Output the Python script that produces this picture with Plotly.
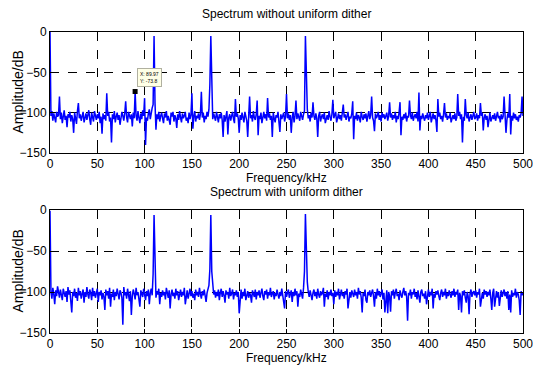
import plotly.graph_objects as go

# Frequency axis (kHz), 1 kHz bins 0..500
freq_khz = list(range(0, 501))

# Spectrum without uniform dither (dB)
amp_no_dither = [
    0, -104, -98, -110, -101, -107, -112, -99, -105, -103, -80, -108, -100, -113, -106, -97, -109, -104, -118, -102,
    -106, -99, -111, -103, -108, -125, -100, -105, -114, -98, -88, -107, -102, -110, -104, -99, -112, -106, -101, -109,
    -103, -97, -108, -115, -100, -106, -111, -98, -104, -109, -102, -107, -99, -113, -105, -126, -101, -108, -103, -110,
    -76, -104, -99, -111, -106, -137, -102, -108, -98, -112, -105, -100, -109, -103, -115, -107, -99, -104, -110, -101,
    -86, -106, -112, -99, -105, -108, -102, -117, -100, -107, -73.8, -104, -110, -98, -106, -113, -101, -108, -97, -104,
    -82, -140, -106, -110, -101, -96, -108, -99, -94, -90, -5, -88, -121, -102, -108, -99, -111, -104, -100, -107,
    -113, -101, -106, -98, -110, -104, -108, -115, -100, -105, -99, -111, -103, -107, -119, -102, -109, -98, -106, -112,
    -101, -107, -104, -99, -110, -106, -113, -100, -108, -103, -76, -120, -105, -98, -111, -104, -107, -101, -109, -102,
    -74, -106, -100, -112, -104, -108, -99, -105, -96, -65, -5, -88, -108, -101, -106, -110, -99, -104, -112, -102,
    -107, -100, -109, -130, -103, -111, -105, -98, -127, -106, -102, -110, -104, -99, -108, -113, -83, -105, -101, -107,
    -125, -103, -109, -100, -106, -112, -99, -104, -110, -130, -101, -80, -107, -103, -111, -98, -106, -109, -102, -85,
    -128, -104, -108, -100, -113, -105, -99, -107, -102, -110, -82, -106, -101, -109, -104, -130, -100, -107, -112, -103,
    -106, -99, -110, -124, -102, -108, -104, -100, -111, -105, -77, -107, -101, -109, -103, -125, -106, -99, -112, -104,
    -85, -108, -101, -106, -110, -99, -104, -109, -102, -98, -5, -68, -96, -107, -103, -111, -100, -106, -87, -104,
    -109, -101, -107, -130, -104, -99, -111, -105, -102, -108, -100, -113, -106, -103, -109, -98, -105, -110, -102, -84,
    -107, -104, -99, -112, -106, -101, -108, -103, -110, -100, -90, -106, -102, -109, -104, -99, -111, -105, -107, -101,
    -86, -133, -104, -108, -100, -110, -103, -106, -112, -99, -105, -109, -102, -107, -101, -111, -104, -98, -108, -103,
    -80, -106, -110, -123, -101, -107, -104, -99, -109, -103, -111, -100, -106, -102, -108, -105, -100, -110, -104, -87,
    -106, -101, -109, -103, -107, -99, -112, -104, -108, -100, -87, -128, -105, -109, -102, -107, -100, -111, -104, -106,
    -85, -103, -108, -100, -110, -105, -102, -107, -99, -111, -75, -122, -104, -108, -101, -106, -110, -103, -107, -100,
    -109, -104, -99, -112, -106, -101, -108, -103, -110, -124, -83, -105, -100, -108, -104, -111, -102, -88, -106, -101,
    -109, -104, -107, -100, -112, -105, -103, -108, -101, -110, -106, -77, -104, -99, -108, -102, -137, -105, -110, -83,
    -103, -107, -100, -111, -105, -102, -109, -104, -99, -108, -106, -101, -110, -103, -107, -88, -104, -100, -122, -106,
    -102, -109, -104, -118, -107, -100, -111, -105, -103, -108, -101, -110, -106, -99, -107, -104, -112, -102, -108, -105,
    -80, -103, -125, -109, -101, -106, -77, -127, -104, -110, -100, -107, -102, -109, -105, -111, -103, -106, -101, -80,
    -104,
]

# Spectrum with uniform dither (dB)
amp_dither = [
    -1, -100, -108, -95, -103, -115, -98, -105, -93, -101, -107, -97, -104, -110, -96, -102, -106, -99, -112, -94,
    -103, -98, -109, -125, -100, -105, -96, -107, -101, -111, -95, -104, -99, -108, -102, -97, -113, -100, -106, -94,
    -103, -108, -97, -101, -110, -95, -105, -99, -107, -102, -96, -112, -100, -104, -98, -109, -101, -106, -122, -97,
    -104, -99, -108, -95, -118, -102, -106, -97, -110, -100, -105, -96, -103, -109, -98, -101, -107, -140, -94, -104,
    -100, -108, -96, -103, -111, -99, -128, -105, -97, -102, -109, -95, -104, -100, -107, -118, -98, -103, -106, -96,
    -102, -110, -99, -105, -97, -115, -101, -96, -104, -78, -6, -85, -107, -99, -103, -96, -115, -101, -106, -98,
    -104, -100, -109, -95, -102, -107, -98, -120, -103, -97, -105, -101, -108, -96, -104, -99, -110, -102, -97, -106,
    -100, -104, -95, -115, -103, -98, -108, -101, -96, -105, -99, -107, -102, -110, -97, -104, -100, -106, -95, -103,
    -108, -99, -104, -97, -105, -112, -101, -96, -92, -72, -6, -75, -92, -103, -98, -107, -100, -105, -97, -110,
    -101, -96, -106, -99, -104, -113, -98, -103, -100, -108, -95, -105, -102, -97, -109, -101, -104, -98, -106, -100,
    -126, -103, -97, -108, -100, -105, -96, -110, -102, -99, -107, -101, -104, -113, -98, -103, -106, -97, -109, -100,
    -104, -98, -107, -101, -96, -105, -110, -99, -103, -97, -108, -100, -104, -95, -106, -102, -99, -109, -101, -105,
    -97, -103, -108, -100, -105, -96, -104, -110, -120, -99, -106, -101, -97, -107, -103, -98, -112, -100, -105, -96,
    -104, -99, -118, -102, -106, -97, -103, -108, -95, -75, -5, -68, -88, -100, -106, -98, -104, -110, -101, -97,
    -105, -100, -108, -96, -103, -107, -99, -104, -101, -95, -118, -102, -106, -98, -109, -100, -104, -97, -105, -101,
    -115, -98, -106, -100, -104, -96, -109, -102, -97, -105, -101, -108, -99, -103, -96, -120, -104, -100, -107, -98,
    -102, -106, -97, -104, -100, -108, -95, -103, -99, -107, -125, -101, -105, -97, -110, -113, -100, -104, -98, -106,
    -101, -97, -105, -118, -100, -108, -96, -104, -99, -106, -102, -97, -109, -101, -125, -103, -98, -126, -100, -105,
    -124, -99, -104, -97, -108, -101, -96, -105, -102, -110, -98, -103, -107, -100, -95, -104, -99, -106, -135, -101,
    -104, -97, -108, -100, -103, -96, -106, -101, -109, -98, -104, -113, -100, -97, -105, -102, -108, -99, -115, -103,
    -97, -106, -100, -104, -96, -120, -102, -107, -99, -103, -98, -105, -110, -101, -97, -106, -100, -104, -96, -108,
    -101, -105, -98, -103, -107, -99, -104, -96, -106, -100, -103, -97, -122, -101, -105, -125, -99, -104, -98, -107,
    -113, -100, -105, -127, -102, -97, -106, -101, -99, -104, -98, -107, -100, -103, -96, -118, -105, -101, -108, -97,
    -103, -99, -106, -100, -104, -97, -108, -122, -101, -96, -118, -103, -99, -107, -100, -117, -104, -98, -106, -101,
    -97, -105, -100, -108, -99, -122, -103, -125, -98, -106, -101, -104, -96, -107, -100, -103, -110, -128, -99, -104,
    -101,
]

titles = ["Spectrum without uniform dither", "Spectrum with uniform dither"]
x_title = "Frequency/kHz"
y_title = "Amplitude/dB"
x_ticks = [0, 50, 100, 150, 200, 250, 300, 350, 400, 450, 500]
y_ticks = [0, -50, -100, -150]
datatip_x = 89.97
datatip_y = -73.8

W, H = 533, 365
FONT = "Liberation Sans, Arial, Helvetica, sans-serif"

# pixel layout
px_left, px_right = 50, 523
top_px = (32, 153)
bot_px = (210, 333)

def ydom(p):
    return [1 - p[1] / H, 1 - p[0] / H]

xdom = [px_left / W, px_right / W]

fig = go.Figure()
fig.add_trace(go.Scatter(x=freq_khz, y=amp_no_dither, mode="lines",
                         line=dict(color="#0000FF", width=1.5), xaxis="x", yaxis="y",
                         showlegend=False, hoverinfo="skip"))
fig.add_trace(go.Scatter(x=freq_khz, y=amp_dither, mode="lines",
                         line=dict(color="#0000FF", width=1.5), xaxis="x2", yaxis="y2",
                         showlegend=False, hoverinfo="skip"))
fig.add_trace(go.Scatter(x=[datatip_x], y=[datatip_y], mode="markers",
                         marker=dict(color="black", size=5, symbol="square"),
                         xaxis="x", yaxis="y", showlegend=False, hoverinfo="skip"))

axis_common = dict(
    showline=True, linecolor="black", linewidth=1, mirror="allticks",
    ticks="inside", ticklen=4, tickcolor="black", automargin=False,
    showgrid=True, gridcolor="black", griddash="dash", gridwidth=1,
    zeroline=False, tickfont=dict(family=FONT, size=12, color="black"),
    ticklabeloverflow="allow",
)

fig.update_layout(
    width=W, height=H,
    margin=dict(l=0, r=0, t=0, b=0, autoexpand=False),
    paper_bgcolor="white", plot_bgcolor="white",
    xaxis=dict(domain=xdom, range=[0, 500], tickvals=x_ticks, anchor="y", **axis_common),
    yaxis=dict(domain=ydom(top_px), range=[-150, 0], tickvals=y_ticks, anchor="x", **axis_common),
    xaxis2=dict(domain=xdom, range=[0, 500], tickvals=x_ticks, anchor="y2", **axis_common),
    yaxis2=dict(domain=ydom(bot_px), range=[-150, 0], tickvals=y_ticks, anchor="x2", **axis_common),
)

cx = (px_left + px_right) / 2 / W
ann = []
for i, p in enumerate([top_px, bot_px]):
    ann.append(dict(text=titles[i], x=cx, y=1 - (p[0] - 9) / H, xref="paper", yref="paper",
                    xanchor="center", yanchor="bottom", showarrow=False,
                    font=dict(family=FONT, size=12, color="black")))
    ann.append(dict(text=x_title, x=cx, y=1 - (p[1] + 25) / H, xref="paper", yref="paper",
                    xanchor="center", yanchor="middle", showarrow=False,
                    font=dict(family=FONT, size=12, color="black")))
    ann.append(dict(text=y_title, x=17 / W, y=1 - ((p[0] + p[1]) / 2) / H, xref="paper", yref="paper",
                    xanchor="center", yanchor="middle", textangle=-90, showarrow=False,
                    font=dict(family=FONT, size=14, color="black")))

ann.append(dict(text="X: 89.97<br>Y: -73.8", x=92, y=-56, xref="x", yref="y",
                xanchor="left", yanchor="middle", showarrow=False, align="left",
                bgcolor="#FFFFE6", bordercolor="#B0B0A0", borderwidth=1, borderpad=2,
                font=dict(family=FONT, size=5, color="black")))
fig.update_layout(annotations=ann)

fig.write_html(
    "out.html",
    config={"displayModeBar": False},
    post_script="document.body.style.margin='0';document.body.style.overflow='hidden';",
)
